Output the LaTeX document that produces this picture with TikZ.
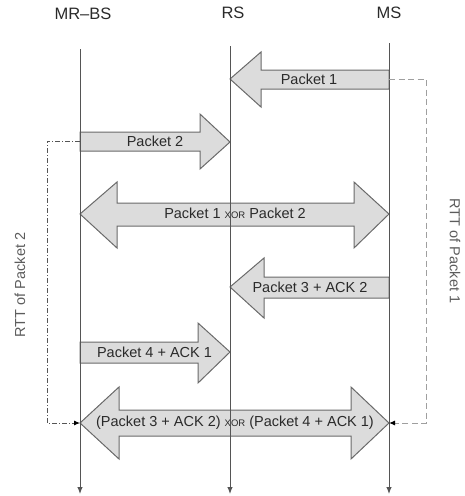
\documentclass[tikz,border=0pt]{standalone}
\usepackage{fontspec}
\setmainfont{Liberation Sans}
\usetikzlibrary{arrows.meta}
\definecolor{afill}{HTML}{DCDCDC}
\definecolor{aline}{HTML}{6A6A6A}
\definecolor{lline}{HTML}{555555}
\definecolor{txt}{HTML}{2A2A2A}
\definecolor{rtxt}{HTML}{5C5C5C}
\tikzset{
  bigarrow/.style={draw=aline, fill=afill, line width=1pt, line join=miter},
  lifeline/.style={draw=lline, line width=1pt, -{Latex[length=7pt,width=5.5pt]}},
  lbl/.style={text=txt, font=\fontsize{14.5}{16}\selectfont, inner sep=0pt},
  hdr/.style={text=txt, font=\fontsize{16.5}{18}\selectfont, inner sep=0pt},
  rtta/.style={draw=gray!75, line width=1pt, dash pattern=on 6pt off 3.5pt, -{Latex[length=6pt,width=5pt,black]}},
  rttb/.style={draw=lline, line width=0.9pt, dash pattern=on 5pt off 2pt on 1pt off 2pt, -{Latex[length=6pt,width=5pt,black]}},
}
\newcommand{\xorw}{{\fontsize{9.5}{10}\selectfont XOR}}
\begin{document}
\begin{tikzpicture}[x=1pt,y=-1pt]
\useasboundingbox (0,0) rectangle (464,496);
% header nodes
\node[hdr] (hmrbs) at (83,14) {MR–BS};
\node[hdr] (hrs) at (233,13) {RS};
\node[hdr] (hms) at (389,13) {MS};
% lifeline coordinates
\coordinate (mrbtop) at (80,49);
\coordinate (rstop) at (230,46);
\coordinate (mstop) at (389,43);
\coordinate (mrbbot) at (80,494);
\coordinate (rsbot) at (230,494);
\coordinate (msbot) at (389,494);
% arrows
\draw[bigarrow] (389,70) -- (261,70) -- (261,52) -- (230,79) -- (261,107) -- (261,89) -- (389,89) -- cycle;
\draw[bigarrow] (80,132) -- (200,132) -- (200,114) -- (230,142) -- (200,169) -- (200,151) -- (80,151) -- cycle;
\draw[bigarrow] (80,214) -- (117,182) -- (117,203) -- (354,203) -- (354,182) -- (389,214) -- (354,248) -- (354,226) -- (117,226) -- (117,248) -- cycle;
\draw[bigarrow] (389,277) -- (264,277) -- (264,258) -- (230,287) -- (264,318) -- (264,298) -- (389,298) -- cycle;
\draw[bigarrow] (80,342) -- (198,342) -- (198,323) -- (230,352) -- (198,383) -- (198,363) -- (80,363) -- cycle;
\draw[bigarrow] (80,423) -- (119,387) -- (119,410) -- (351,410) -- (351,387) -- (389,423) -- (351,459) -- (351,436) -- (119,436) -- (119,459) -- cycle;
% lifelines
\draw[lifeline] (mrbtop) -- (mrbbot);
\draw[lifeline] (rstop) -- (rsbot);
\draw[lifeline] (mstop) -- (msbot);
% labels
\node[lbl] (p1) at (309,79) {Packet 1};
\node[lbl] (p2) at (155,141) {Packet 2};
\node[lbl] (p12) at (235,213) {Packet 1 \xorw{} Packet 2};
\node[lbl] (p3) at (310,287) {Packet 3 + ACK 2};
\node[lbl] (p4) at (154.5,352) {Packet 4 + ACK 1};
\node[lbl] (p34) at (235,423) {(Packet 3 + ACK 2) \xorw{} (Packet 4 + ACK 1)};
% RTT connectors
\coordinate (r1s) at (389,79);
\coordinate (r1e) at (389,423);
\coordinate (r2s) at (80,141);
\coordinate (r2e) at (80,423);
\draw[rtta] (r1s) -- (426,79) -- (426,423) -- (r1e);
\draw[rttb] (r2s) -- (47,141) -- (47,423) -- (r2e);
\node[lbl, rotate=-90, text=rtxt] (rtt1) at (455,251) {RTT of Packet 1};
\node[lbl, rotate=90, text=rtxt] (rtt2) at (20,285) {RTT of Packet 2};
\end{tikzpicture}
\end{document}
